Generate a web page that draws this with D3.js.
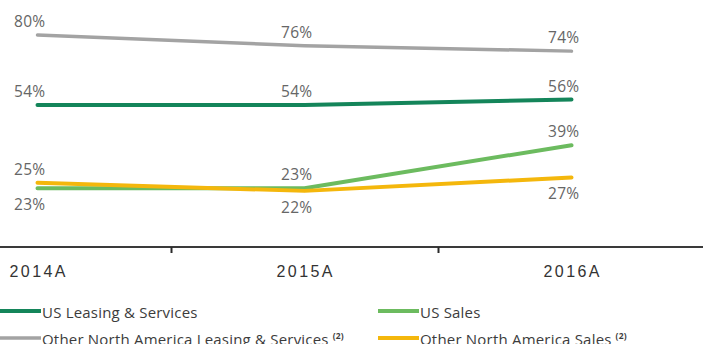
<!DOCTYPE html>
<html>
<head>
<meta charset="utf-8">
<script src="https://cdn.jsdelivr.net/npm/d3@7/dist/d3.min.js"></script>
<style>
  html, body { margin: 0; padding: 0; background: #fff; }
  svg { display: block; }
</style>
</head>
<body>
<svg id="chart" width="703" height="344"></svg>
<script>
// Share of revenue by segment, 2014A–2016A
const years = ["2014A", "2015A", "2016A"];
const usLeasing = [54, 54, 56];
const usSales = [23, 23, 39];
const otherLeasing = [80, 76, 74];
const otherSales = [25, 22, 27];

// label placement relative to each point: "above" or "below"
const usLeasingPos = ["above", "above", "above"];
const usSalesPos = ["below", "above", "above"];
const otherLeasingPos = ["above", "above", "above"];
const otherSalesPos = ["above", "below", "below"];

const series = [
  { name: "US Leasing & Services", values: usLeasing, pos: usLeasingPos, color: "#14855a", width: 4, sup: "" },
  { name: "US Sales", values: usSales, pos: usSalesPos, color: "#6cbb5f", width: 4, sup: "" },
  { name: "Other North America Leasing & Services", values: otherLeasing, pos: otherLeasingPos, color: "#a3a3a3", width: 3.5, sup: "(2)" },
  { name: "Other North America Sales", values: otherSales, pos: otherSalesPos, color: "#f4b70c", width: 4, sup: "(2)" }
];

// draw order: grey, dark green, light green, yellow on top
const drawOrder = [2, 0, 1, 3];

const svg = d3.select("#chart");

const x = d3.scaleBand().domain(years).range([-96, 705]).padding(0);
const y = d3.scaleLinear().domain([0, 80]).range([250, 35]);
const cx = d => x(d) + x.bandwidth() / 2;

// axis baseline
const axisY = 247;
svg.append("line")
  .attr("x1", 0).attr("x2", 703)
  .attr("y1", axisY).attr("y2", axisY)
  .attr("stroke", "#3a3a3a").attr("stroke-width", 2);

// tick marks at category boundaries
svg.selectAll(".tick")
  .data(years.slice(1))
  .enter().append("line")
  .attr("x1", d => Math.round(x(d)) + 0.5)
  .attr("x2", d => Math.round(x(d)) + 0.5)
  .attr("y1", axisY).attr("y2", axisY + 6)
  .attr("stroke", "#2a2a2a").attr("stroke-width", 2);

// category labels
svg.selectAll(".xlab")
  .data(years)
  .enter().append("text")
  .attr("x", d => cx(d) + 1.2)
  .attr("y", 277)
  .attr("text-anchor", "middle")
  .attr("font-family", "Liberation Sans, Arial, sans-serif")
  .attr("font-size", 16)
  .attr("letter-spacing", "2.4px")
  .attr("fill", "#333")
  .text(d => d);

// lines
const line = d3.line()
  .x((v, i) => cx(years[i]))
  .y(v => y(v));

drawOrder.forEach(k => {
  const s = series[k];
  svg.append("path")
    .datum(s.values)
    .attr("d", line)
    .attr("fill", "none")
    .attr("stroke", s.color)
    .attr("stroke-width", s.width)
    .attr("stroke-linecap", "round")
    .attr("stroke-linejoin", "round");
});

// value labels
series.forEach(s => {
  svg.append("g").selectAll("text")
    .data(s.values)
    .enter().append("text")
    .attr("x", (v, i) => cx(years[i]) + 8)
    .attr("y", (v, i) => s.pos[i] === "above" ? y(v) - 8 : y(v) + 22)
    .attr("text-anchor", "end")
    .attr("font-family", "Open Sans, sans-serif")
    .attr("font-size", 15.5)
    .attr("letter-spacing", "0.3px")
    .attr("fill", "#666")
    .text(v => v + "%");
});

// legend
const legendCols = [0, 378];
const legendRows = [311, 338];
series.forEach((s, i) => {
  const lx = legendCols[i % 2];
  const ly = legendRows[Math.floor(i / 2)];
  const g = svg.append("g");
  g.append("line")
    .attr("x1", lx).attr("x2", lx + 41)
    .attr("y1", ly).attr("y2", ly)
    .attr("stroke", s.color)
    .attr("stroke-width", s.width);
  const t = g.append("text")
    .attr("x", lx + 42)
    .attr("y", ly + 6.5)
    .attr("font-family", "Open Sans, sans-serif")
    .attr("font-size", 15)
    .attr("letter-spacing", "0.2px")
    .attr("fill", "#3c3c3c")
    .text(s.name);
  if (s.sup) {
    t.append("tspan")
      .attr("dx", 4)
      .attr("dy", -6)
      .attr("font-size", 8.5)
      .attr("font-weight", "bold")
      .text(s.sup);
  }
});
</script>
</body>
</html>
